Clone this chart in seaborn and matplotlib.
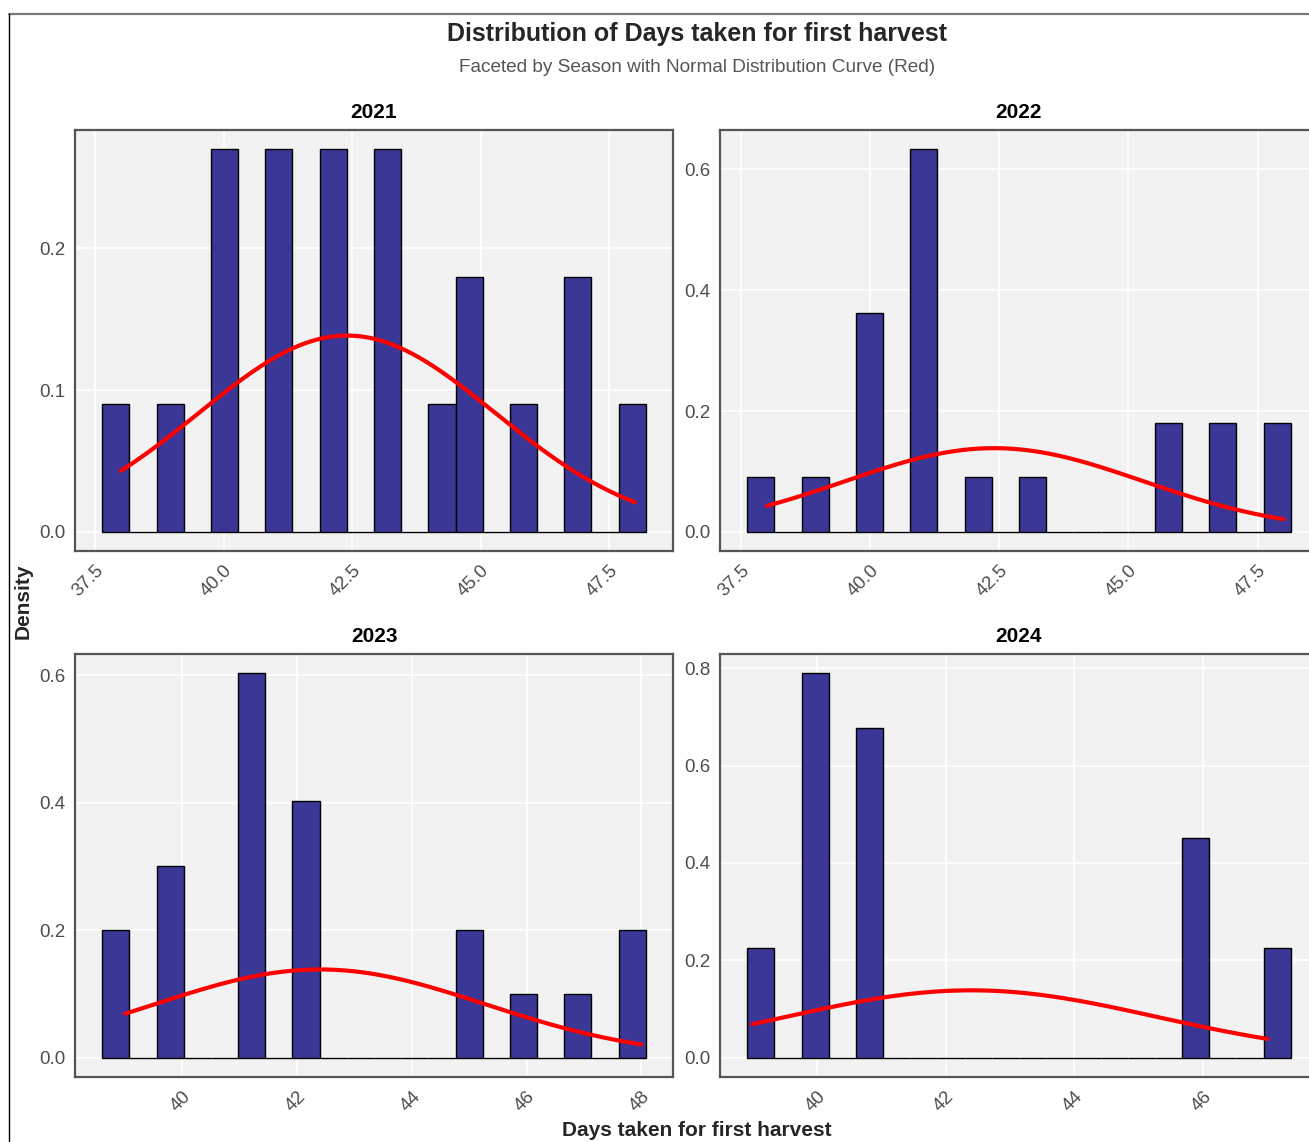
import numpy as np
import pandas as pd
import matplotlib
matplotlib.use("Agg")
import matplotlib.pyplot as plt
from matplotlib.lines import Line2D
import seaborn as sns

# ---- data: days to first harvest (value, number of plots) per season ----
seasons = ["2021", "2022", "2023", "2024"]

days_2021 = [37.9, 38.96, 40.02, 41.07, 42.13, 43.19, 44.25, 44.78, 45.84, 46.89, 47.95]
counts_2021 = [1, 1, 3, 3, 3, 3, 1, 2, 1, 2, 1]

days_2022 = [37.88, 38.93, 39.99, 41.04, 42.09, 43.14, 45.77, 46.83, 47.88]
counts_2022 = [1, 1, 4, 7, 1, 1, 2, 2, 2]

days_2023 = [38.84, 39.79, 41.21, 42.16, 45.0, 45.95, 46.89, 47.84]
counts_2023 = [2, 3, 6, 4, 2, 1, 1, 2]

days_2024 = [39.13, 39.97, 40.82, 45.88, 47.15]
counts_2024 = [2, 7, 6, 4, 2]

# normal reference curve: parameters and the x-span drawn in each season
curve_mean = 42.4
curve_sd = 2.88
curve_start = [38, 38, 39, 39]
curve_end = [48, 48, 48, 47]

x_ticks_2021 = [37.5, 40.0, 42.5, 45.0, 47.5]
x_ticks_2022 = [37.5, 40.0, 42.5, 45.0, 47.5]
x_ticks_2023 = [40, 42, 44, 46, 48]
x_ticks_2024 = [40, 42, 44, 46]

y_ticks_2021 = [0.0, 0.1, 0.2]
y_ticks_2022 = [0.0, 0.2, 0.4, 0.6]
y_ticks_2023 = [0.0, 0.2, 0.4, 0.6]
y_ticks_2024 = [0.0, 0.2, 0.4, 0.6, 0.8]

# ---- long table ----
frames = []
for s, d, c in zip(seasons,
                   [days_2021, days_2022, days_2023, days_2024],
                   [counts_2021, counts_2022, counts_2023, counts_2024]):
    frames.append(pd.DataFrame({"season": s, "days": d, "count": c}))
df = pd.concat(frames, ignore_index=True)

xticks = {"2021": x_ticks_2021, "2022": x_ticks_2022,
          "2023": x_ticks_2023, "2024": x_ticks_2024}
yticks = {"2021": y_ticks_2021, "2022": y_ticks_2022,
          "2023": y_ticks_2023, "2024": y_ticks_2024}
xfmt = {"2021": "{:.1f}", "2022": "{:.1f}", "2023": "{:.0f}", "2024": "{:.0f}"}
curve_span = {s: (a, b) for s, a, b in zip(seasons, curve_start, curve_end)}

# ---- style ----
sns.set_style("white")
plt.rcParams["font.family"] = ["Liberation Sans", "DejaVu Sans"]

BAR = "#3A3797"
PANEL_BG = "#F2F2F2"
TICK_COL = "#4D4D4D"
N_BINS = 20

W, H = 1309, 1142
fig = plt.figure(figsize=(W / 100, H / 100), dpi=100)
fig.patch.set_facecolor("white")

# panel boxes in pixels: left, top, right, bottom
boxes = {
    "2021": (75, 130, 673, 551),
    "2022": (720, 130, 1318, 551),
    "2023": (75, 654, 673, 1077),
    "2024": (720, 654, 1318, 1077),
}


def normal_pdf(x, mu, sd):
    return np.exp(-0.5 * ((x - mu) / sd) ** 2) / (sd * np.sqrt(2 * np.pi))


for s in seasons:
    l, t, r, b = boxes[s]
    ax = fig.add_axes([l / W, 1 - b / H, (r - l) / W, (b - t) / H])
    sub = df[df["season"] == s]
    lo, hi = sub["days"].min(), sub["days"].max()
    bw = (hi - lo) / (N_BINS - 1)
    e0, e1 = lo - bw / 2, hi + bw / 2

    sns.histplot(data=sub, x="days", weights="count", bins=N_BINS,
                 binrange=(e0, e1), stat="density", color=BAR, alpha=1,
                 edgecolor="black", linewidth=1.0, ax=ax, zorder=2)

    c0, c1 = curve_span[s]
    xs = np.linspace(c0, c1, 300)
    sns.lineplot(x=xs, y=normal_pdf(xs, curve_mean, curve_sd), color="red",
                 linewidth=3.0, ax=ax, zorder=3)

    ymax = max(p.get_height() for p in ax.patches)
    x_lo, x_hi = min(e0, c0), max(e1, c1)
    span = x_hi - x_lo
    ax.set_xlim(x_lo - 0.05 * span, x_hi + 0.05 * span)
    ax.set_ylim(-0.05 * ymax, 1.05 * ymax)

    ax.set_facecolor(PANEL_BG)
    ax.set_axisbelow(True)
    ax.grid(True, color="white", linewidth=1.3, zorder=0)
    for sp in ax.spines.values():
        sp.set_visible(True)
        sp.set_color("#555555")
        sp.set_linewidth(1.6)

    ax.set_xticks(xticks[s])
    ax.set_xticklabels([xfmt[s].format(v) for v in xticks[s]])
    ax.set_yticks(yticks[s])
    ax.set_yticklabels(["{:.1f}".format(v) for v in yticks[s]])
    ax.tick_params(axis="both", length=0, labelsize=13.5, labelcolor=TICK_COL)
    ax.tick_params(axis="x", pad=8)
    ax.tick_params(axis="y", pad=7)
    for lab in ax.get_xticklabels():
        lab.set_rotation(45)
        lab.set_ha("right")
        lab.set_va("top")
        lab.set_rotation_mode("anchor")

    ax.set_xlabel("")
    ax.set_ylabel("")
    ax.set_title(s, fontsize=15, fontweight="bold", pad=9, color="black")

# ---- titles and shared axis labels ----
fig.text(697 / W, 1 - 34 / H, "Distribution of Days taken for first harvest",
         ha="center", va="center", fontsize=18, fontweight="bold")
fig.text(697 / W, 1 - 68 / H, "Faceted by Season with Normal Distribution Curve (Red)",
         ha="center", va="center", fontsize=13.7, color="#555555")
fig.text(23 / W, 1 - 601 / H, "Density", rotation=90, ha="center", va="center",
         fontsize=15, fontweight="bold")
fig.text(697 / W, 1 - 1131 / H, "Days taken for first harvest", ha="center",
         va="center", fontsize=15, fontweight="bold")

# outer frame lines
fig.add_artist(Line2D([8.5 / W, 1], [1 - 13.5 / H, 1 - 13.5 / H], color="#777777",
                      linewidth=1.6, transform=fig.transFigure))
fig.add_artist(Line2D([8.5 / W, 8.5 / W], [0, 1 - 13.5 / H], color="black",
                      linewidth=1.0, transform=fig.transFigure))

fig.savefig("out.png", dpi=100)
